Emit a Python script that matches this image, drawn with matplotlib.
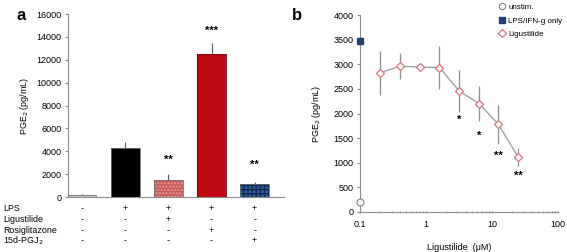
import numpy as np
import matplotlib
matplotlib.use("Agg")
import matplotlib.pyplot as plt
from matplotlib.lines import Line2D
from matplotlib.ticker import FixedLocator, FixedFormatter, LogLocator, NullFormatter

plt.rcParams['font.family'] = ['Liberation Sans', 'DejaVu Sans']
plt.rcParams['font.size'] = 6.5

# panel a data
bar_vals = [200, 4300, 1500, 12500, 1100]
bar_err = [50, 500, 500, 1000, 200]
bar_colors = ['#c8c8c8', '#000000', '#c85a5a', '#c00812', '#2f5d9c']
bar_hatch = [None, None, '.....', None, '++++']
bar_stars = ['', '', '**', '***', '**']
star_y = [0, 0, 3235, 14500, 2800]
row_names = ['LPS', 'Ligustilide', 'Rosiglitazone', '15d-PGJ$_2$']
row_signs = [['-', '+', '+', '+', '+'],
             ['-', '-', '+', '-', '-'],
             ['-', '-', '-', '+', '-'],
             ['-', '-', '-', '-', '+']]

# panel b data
conc = [0.2, 0.4, 0.8, 1.6, 3.2, 6.4, 12.5, 25]
pge2 = [2825, 2960, 2945, 2935, 2455, 2200, 1780, 1115]
pge2_err = [440, 260, 50, 430, 420, 350, 390, 180]
conc_stars = [3.2, 6.4, 12.5, 25]
stars_y = [1862, 1556, 1150, 730]
stars_txt = ['*', '*', '**', '**']
unstim = 200
lps_only = 3480

fig = plt.figure(figsize=(5.67, 2.52), dpi=100)
grey = '#8c8c8c'

# ---------------- panel a
ax = fig.add_axes([0.12, 0.218, 0.38, 0.726])
x = np.arange(len(bar_vals))
for i in x:
    ax.bar(i, bar_vals[i], 0.66, color=bar_colors[i], edgecolor='none', zorder=2)
    if bar_hatch[i]:
        hc = '#e8a0a0' if i == 2 else '#0e2a55'
        ax.bar(i, bar_vals[i], 0.66, facecolor='none', edgecolor=hc,
               hatch=bar_hatch[i], linewidth=0, zorder=3)
    ec = '#707070' if i != 3 else '#6a0008'
    ax.bar(i, bar_vals[i], 0.66, facecolor='none', edgecolor=ec, linewidth=0.6, zorder=4)
ax.errorbar(x, bar_vals, yerr=[np.zeros(len(x)), bar_err], fmt='none',
            ecolor='#555555', elinewidth=0.8, capsize=0, zorder=1)
for i in x:
    if bar_stars[i]:
        ax.text(i, star_y[i], bar_stars[i], ha='center', va='center',
                fontsize=8, fontweight='bold')
ax.set_xlim(-0.33, 4.67)
ax.set_ylim(0, 16000)
ax.set_yticks(np.arange(0, 16001, 2000))
ax.set_xticks([])
for s in ['top', 'right']:
    ax.spines[s].set_visible(False)
for s in ['left', 'bottom']:
    ax.spines[s].set_color(grey)
ax.tick_params(axis='y', color=grey, length=2.5, pad=2)
ax.set_ylabel('PGE$_2$ (pg/mL)', fontsize=6.5, labelpad=4)
row_y = [-0.064, -0.124, -0.184, -0.24]
for r, name in enumerate(row_names):
    fig.text(3 / 567, 1 - (197 - row_y[r] * 183) / 252, name,
             ha='left', va='center', fontsize=6.4)
    for i in x:
        ax.text(i, row_y[r], row_signs[r][i], ha='center', va='center',
                transform=ax.get_xaxis_transform(), fontsize=6.5, clip_on=False)
fig.text(21 / 567, 1 - 16 / 252, 'a', fontsize=12, fontweight='bold', ha='center', va='center')

# ---------------- panel b
bx = fig.add_axes([0.635, 0.159, 0.349, 0.781])
bx.set_xscale('log')
bx.errorbar(conc, pge2, yerr=pge2_err, fmt='none', ecolor=grey, elinewidth=0.9, capsize=0, zorder=1)
bx.plot(conc, pge2, color='#a0a0a0', lw=1, marker='D', ms=4.5, mfc='white',
        mec='#d9757a', mew=0.9, zorder=3)
bx.plot([0.1], [unstim], 'o', ms=5, mfc='white', mec='#808080', mew=0.8, clip_on=False, zorder=4)
bx.plot([0.1], [lps_only], 's', ms=4.5, color='#1f3f75', clip_on=False, zorder=4)
for c, yv, t in zip(conc_stars, stars_y, stars_txt):
    bx.text(c, yv, t, ha='center', va='center', fontsize=8, fontweight='bold')
bx.set_xlim(0.1, 100)
bx.set_ylim(0, 4000)
bx.set_yticks(np.arange(0, 4001, 500))
bx.xaxis.set_major_locator(FixedLocator([0.1, 1, 10, 100]))
bx.xaxis.set_major_formatter(FixedFormatter(['0.1', '1', '10', '100']))
bx.xaxis.set_minor_locator(LogLocator(base=10, subs=np.arange(2, 10)))
bx.xaxis.set_minor_formatter(NullFormatter())
for s in ['top', 'right']:
    bx.spines[s].set_visible(False)
for s in ['left', 'bottom']:
    bx.spines[s].set_color(grey)
bx.tick_params(axis='y', color=grey, length=2.5, pad=2)
bx.tick_params(axis='x', which='both', color=grey, length=2, direction='inout', pad=5)
bx.set_ylabel('PGE$_2$ (pg/mL)', fontsize=6.5, labelpad=8)
bx.set_xlabel('Ligustilide  (\u03bcM)', fontsize=6.5, labelpad=10)
handles = [
    Line2D([], [], ls='none', marker='o', ms=4.5, mfc='white', mec='#808080', mew=0.8),
    Line2D([], [], ls='none', marker='s', ms=4.5, color='#1f3f75'),
    Line2D([], [], color='#a0a0a0', lw=1, marker='D', ms=4, mfc='white', mec='#d9757a', mew=0.9),
]
fig.legend(handles, ['unstim.', 'LPS/IFN-g only', 'Ligustilide'], loc='upper left',
           bbox_to_anchor=(494 / 567, 1.0), frameon=False, fontsize=5.8,
           handlelength=1.1, handletextpad=0.3, labelspacing=0.75, borderaxespad=0)
fig.text(297 / 567, 1 - 16 / 252, 'b', fontsize=12, fontweight='bold', ha='center', va='center')

fig.savefig('out.png', dpi=100)
